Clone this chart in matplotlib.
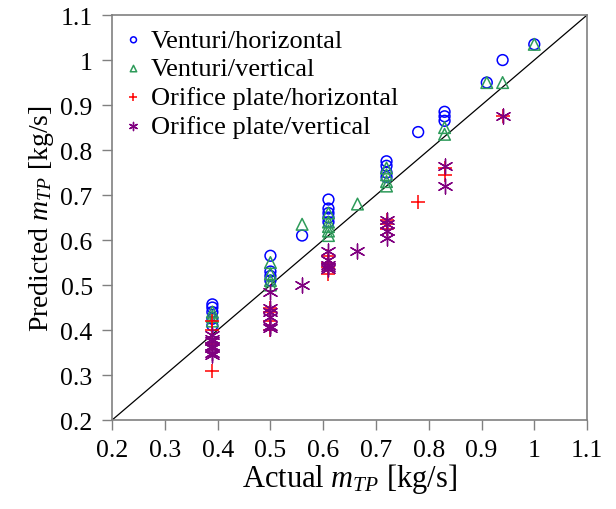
import matplotlib
matplotlib.use("Agg")
import matplotlib.pyplot as plt

plt.rcParams['font.family'] = ['Liberation Serif', 'DejaVu Serif']
plt.rcParams['mathtext.fontset'] = 'custom'
plt.rcParams['mathtext.it'] = 'Liberation Serif:italic'
plt.rcParams['mathtext.rm'] = 'Liberation Serif'

# Venturi / horizontal
vh_x = [0.39, 0.39, 0.39, 0.39, 0.39, 0.5, 0.5, 0.5, 0.5, 0.56,
        0.61, 0.61, 0.61, 0.61, 0.61, 0.72, 0.72, 0.72, 0.72,
        0.78, 0.83, 0.83, 0.83, 0.91, 0.94, 1.0]
vh_y = [0.457, 0.45, 0.44, 0.425, 0.41, 0.565, 0.53, 0.52, 0.51, 0.61,
        0.69, 0.67, 0.66, 0.65, 0.64, 0.775, 0.765, 0.75, 0.74,
        0.84, 0.885, 0.875, 0.865, 0.95, 1.0, 1.035]

# Venturi / vertical
vv_x = [0.39, 0.39, 0.39, 0.5, 0.5, 0.5, 0.5, 0.56,
        0.61, 0.61, 0.61, 0.61, 0.61, 0.665, 0.72, 0.72, 0.72, 0.72,
        0.83, 0.83, 0.91, 0.94, 1.0]
vv_y = [0.44, 0.43, 0.42, 0.55, 0.525, 0.51, 0.5, 0.635,
        0.66, 0.64, 0.63, 0.62, 0.61, 0.68, 0.76, 0.745, 0.73, 0.72,
        0.85, 0.835, 0.95, 0.95, 1.035]

# Orifice plate / horizontal
oh_x = [0.39, 0.39, 0.39, 0.39, 0.5, 0.5, 0.5, 0.5,
        0.61, 0.61, 0.61, 0.61, 0.72, 0.72, 0.72, 0.78, 0.83, 0.83, 0.94]
oh_y = [0.42, 0.40, 0.37, 0.31, 0.45, 0.44, 0.42, 0.40,
        0.565, 0.55, 0.54, 0.525, 0.645, 0.635, 0.625, 0.685, 0.76, 0.745, 0.875]

# Orifice plate / vertical
ov_x = [0.39, 0.39, 0.39, 0.39, 0.39, 0.39, 0.39,
        0.5, 0.5, 0.5, 0.5, 0.5, 0.5, 0.56,
        0.61, 0.61, 0.61, 0.61, 0.61, 0.665,
        0.72, 0.72, 0.72, 0.72, 0.83, 0.83, 0.94]
ov_y = [0.39, 0.38, 0.375, 0.365, 0.36, 0.35, 0.345,
        0.485, 0.45, 0.44, 0.43, 0.41, 0.405, 0.5,
        0.575, 0.555, 0.545, 0.54, 0.535, 0.575,
        0.645, 0.635, 0.62, 0.605, 0.765, 0.72, 0.875]

ticks = [0.2, 0.3, 0.4, 0.5, 0.6, 0.7, 0.8, 0.9, 1.0, 1.1]
tick_labels = ['0.2', '0.3', '0.4', '0.5', '0.6', '0.7', '0.8', '0.9', '1', '1.1']

fig = plt.figure(figsize=(6.16, 5.10), dpi=100)
ax = fig.add_axes([0.182, 0.1745, 0.771, 0.794])

ax.plot([0.2, 1.1], [0.2, 1.1], color='black', lw=0.9, zorder=1)

ax.scatter(vh_x, vh_y, marker='o', s=60, facecolors='none', edgecolors='#0000ff',
           linewidths=1.1, label='Venturi/horizontal', zorder=2)
ax.scatter(vv_x, vv_y, marker='^', s=70, facecolors='none', edgecolors='#2e9b5a',
           linewidths=1.1, label='Venturi/vertical', zorder=3)
ax.scatter(oh_x, oh_y, marker='+', s=95, color='#ff0000',
           linewidths=1.1, label='Orifice plate/horizontal', zorder=4)
ax.scatter(ov_x, ov_y, marker=(6, 2, 0), s=115, color='#800080',
           linewidths=1.0, label='Orifice plate/vertical', zorder=5)

ax.set_xlim(0.2, 1.1)
ax.set_ylim(0.2, 1.1)
ax.set_xticks(ticks)
ax.set_xticklabels(tick_labels)
ax.set_yticks(ticks)
ax.set_yticklabels(tick_labels)
ax.tick_params(direction='out', length=7, width=1, color='#808080',
               labelsize=18.5, pad=7)
for sp in ax.spines.values():
    sp.set_color('#808080')
    sp.set_linewidth(1.2)

ax.set_xlabel('Actual $m_{TP}$ [kg/s]', fontsize=22, labelpad=0)
ax.set_ylabel('Predicted $m_{TP}$ [kg/s]', fontsize=20, labelpad=3)

leg = ax.legend(loc='upper left', frameon=False, fontsize=19, markerscale=0.55,
                handletextpad=0.25, handlelength=0.8, labelspacing=0.2,
                borderaxespad=0.1, bbox_to_anchor=(-0.005, 1.0))

fig.savefig('out.png', dpi=100)
